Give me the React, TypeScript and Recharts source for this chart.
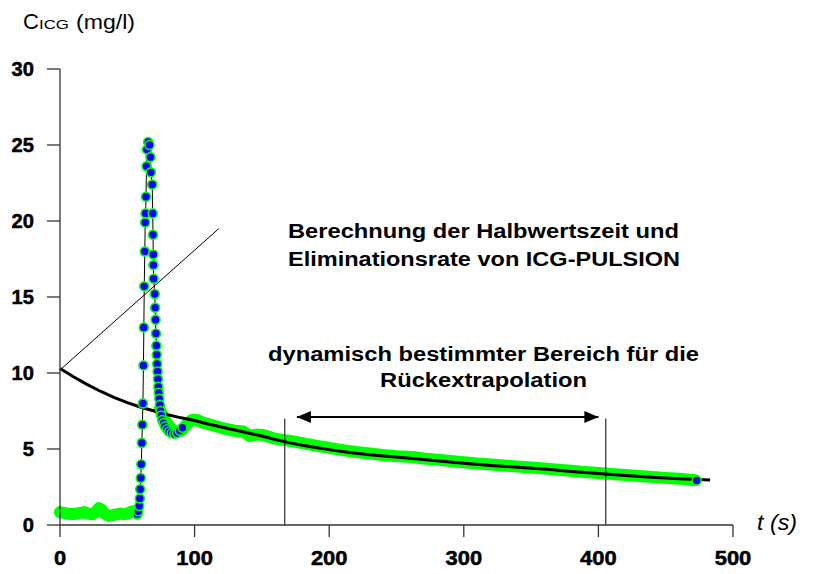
import React from "react";
import { ComposedChart, Line, XAxis, YAxis } from "recharts";

// ---- data ----
const xTicks = [0, 100, 200, 300, 400, 500];
const yTicks = [0, 5, 10, 15, 20, 25, 30];

// baseline of the measured concentration (before the bolus)
const baseT = [0, 3, 6, 9, 12, 15, 18, 21, 24, 27, 29, 31, 33, 36, 39, 42, 45, 48, 51, 54, 57];
const baseV = [0.85, 0.8, 0.75, 0.7, 0.75, 0.8, 0.85, 0.75, 0.7, 0.9, 1.1, 1.0, 0.75, 0.6, 0.65, 0.7, 0.75, 0.7, 0.8, 0.9, 0.75];

// bolus peak (individual markers)
const spikeT = [57.5, 58.2, 58.9, 59.3, 59.6, 60.0, 60.4, 60.8, 61.2, 61.6, 62.0, 62.3, 62.6, 63.0, 63.3, 63.6, 63.9, 64.3, 64.6, 65.5, 66.5, 67.2, 67.5, 68.5, 68.9, 69.1, 69.3, 69.4, 69.6, 70.4, 70.7, 71.0, 71.3, 71.6, 71.9, 72.2, 72.5, 72.8, 73.1, 73.4, 73.8, 74.2, 74.7, 75.3, 76.0, 77.0, 78.0, 79.5, 81, 83, 85, 87, 89, 91];
const spikeV = [0.7, 0.9, 1.25, 1.75, 2.35, 3.1, 4.0, 5.4, 6.6, 8.0, 10.5, 13.0, 15.7, 18.0, 19.9, 20.5, 21.6, 23.6, 24.7, 25.2, 25.0, 24.2, 23.2, 22.4, 20.5, 19.1, 17.8, 17.1, 16.2, 15.2, 14.3, 13.5, 12.6, 11.8, 11.2, 10.6, 10.1, 9.6, 9.1, 8.7, 8.3, 7.9, 7.5, 7.2, 6.9, 6.7, 6.5, 6.3, 6.15, 6.05, 6.0, 6.05, 6.2, 6.4];

// elimination phase (dense markers form a band)
const tailT = [74, 78, 82, 86, 90, 94, 98, 102, 106, 112, 118, 124, 130, 136, 141, 146, 152, 158, 164, 170, 180, 190, 200, 210, 220, 230, 240, 250, 262, 270, 280, 290, 300, 310, 320, 330, 340, 350, 360, 370, 380, 390, 400, 410, 420, 430, 440, 450, 460, 472];
const tailV = [7.6, 6.9, 6.4, 6.1, 6.2, 6.6, 6.9, 6.9, 6.75, 6.6, 6.45, 6.3, 6.2, 6.15, 5.85, 5.95, 5.9, 5.72, 5.62, 5.55, 5.38, 5.22, 5.07, 4.93, 4.8, 4.7, 4.6, 4.53, 4.47, 4.38, 4.3, 4.21, 4.13, 4.05, 3.98, 3.91, 3.85, 3.78, 3.72, 3.64, 3.57, 3.49, 3.42, 3.35, 3.29, 3.22, 3.16, 3.1, 3.05, 2.95];

const lastT = [473];
const lastV = [2.93];

// fitted (back-extrapolated) elimination curve
const fitT = [0, 10, 20, 30, 40, 50, 60, 70, 80, 90, 100, 110, 120, 130, 140, 150, 160, 170, 180, 190, 200, 215, 230, 245, 262, 280, 300, 320, 340, 362, 380, 405, 420, 440, 460, 483];
const fitV = [10.3, 9.75, 9.25, 8.8, 8.4, 8.05, 7.75, 7.5, 7.25, 7.05, 6.88, 6.65, 6.45, 6.25, 6.05, 5.85, 5.62, 5.42, 5.25, 5.1, 4.96, 4.77, 4.62, 4.5, 4.38, 4.22, 4.06, 3.92, 3.8, 3.66, 3.52, 3.35, 3.25, 3.14, 3.05, 2.96];

// tangent at t = 0
const tangentT = [0, 118];
const tangentV = [10.2, 19.5];

// range used for the back-extrapolation
const rangeStartT = 167;
const rangeEndT = 405.5;
const rangeTopV = 7.0;
const arrowT = [176, 400];
const arrowV = [7.1, 7.1];

const zip = (ts: number[], vs: number[]) => ts.map((t, i) => ({ t, v: vs[i] }));

const baseData = zip(baseT, baseV);
const spikeData = zip(spikeT, spikeV);
const tailData = zip(tailT, tailV);
const lastData = zip(lastT, lastV);
const fitData = zip(fitT, fitV);
const tangentData = zip(tangentT, tangentV);
const vLine1 = zip([rangeStartT, rangeStartT], [0, rangeTopV]);
const vLine2 = zip([rangeEndT, rangeEndT], [0, rangeTopV]);
const arrowData = zip(arrowT, arrowV);

const GREEN = "#00ff00";
const BLUE = "#0000ff";
const AXIS = "#333333";

const markerDot = (props: any) => {
  const { cx, cy, index } = props;
  if (cx == null || cy == null) return <g key={"m" + index} />;
  return <circle key={"m" + index} cx={cx} cy={cy} r={4.5} fill={BLUE} stroke={GREEN} strokeWidth={1.6} />;
};

const arrowDot = (props: any) => {
  const { cx, cy, index } = props;
  if (cx == null || cy == null) return <g key={"a" + index} />;
  const dir = index === 0 ? 1 : -1;
  const pts = `${cx},${cy} ${cx + dir * 14},${cy - 6} ${cx + dir * 14},${cy + 6}`;
  return <polygon key={"a" + index} points={pts} fill="#000" />;
};

const tickFont = {
  fontFamily: "Liberation Sans, Arial, sans-serif",
  fontWeight: "bold" as const,
  fontSize: 20,
  fill: "#000",
  stroke: "#000",
  strokeWidth: 0.5,
};

const XTick = (props: any) => {
  const { x, y, payload } = props;
  const label = String(payload.value);
  return (
    <text x={x} y={y + 26} textAnchor="middle" textLength={label.length * 12.2} lengthAdjust="spacingAndGlyphs" {...tickFont}>
      {label}
    </text>
  );
};

const YTick = (props: any) => {
  const { x, y, payload } = props;
  const label = String(payload.value);
  return (
    <text x={x} y={y + 7} textAnchor="end" textLength={label.length * 11.2} lengthAdjust="spacingAndGlyphs" {...tickFont}>
      {label}
    </text>
  );
};

const W = 813;
const H = 574;

export default function App() {
  return (
    <div style={{ position: "fixed", left: 0, top: 0, width: W, height: H, overflow: "hidden", background: "#fff" }}>
      <ComposedChart width={W} height={H} margin={{ top: 69, right: 80, bottom: 19, left: 8 }}>
        <XAxis
          dataKey="t"
          type="number"
          domain={[0, 500]}
          ticks={xTicks}
          tickSize={12}
          tickMargin={2}
          height={30}
          stroke={AXIS}
          tick={<XTick />}
          axisLine={{ stroke: AXIS, strokeWidth: 1.3 }}
          tickLine={{ stroke: AXIS, strokeWidth: 1.3 }}
        />
        <YAxis
          dataKey="v"
          type="number"
          domain={[0, 30]}
          ticks={yTicks}
          tickSize={13}
          tickMargin={13}
          width={52}
          stroke={AXIS}
          tick={<YTick />}
          axisLine={{ stroke: AXIS, strokeWidth: 1.3 }}
          tickLine={{ stroke: AXIS, strokeWidth: 1.3 }}
        />
        <Line data={baseData} dataKey="v" stroke={GREEN} strokeWidth={12} strokeLinecap="round" strokeLinejoin="round" dot={false} isAnimationActive={false} />
        <Line data={tailData} dataKey="v" stroke={GREEN} strokeWidth={12} strokeLinecap="round" strokeLinejoin="round" dot={false} isAnimationActive={false} />
        <Line data={fitData} dataKey="v" stroke="#000" strokeWidth={3} dot={false} isAnimationActive={false} />
        <Line data={spikeData} dataKey="v" stroke="#000" strokeWidth={1} dot={markerDot} isAnimationActive={false} />
        <Line data={lastData} dataKey="v" stroke="none" dot={markerDot} isAnimationActive={false} />
        <Line data={tangentData} dataKey="v" stroke="#000" strokeWidth={1} dot={false} isAnimationActive={false} />
        <Line data={vLine1} dataKey="v" stroke="#000" strokeWidth={1} dot={false} isAnimationActive={false} />
        <Line data={vLine2} dataKey="v" stroke="#000" strokeWidth={1} dot={false} isAnimationActive={false} />
        <Line data={arrowData} dataKey="v" stroke="#000" strokeWidth={2} dot={arrowDot} isAnimationActive={false} />
      </ComposedChart>
      <svg width={W} height={H} style={{ position: "absolute", left: 0, top: 0, pointerEvents: "none" }}>
        <g fontFamily="Liberation Sans, Arial, sans-serif" fill="#000">
          <text x={23} y={29} fontSize={22}>C</text>
          <text x={39} y={29} fontSize={13} textLength={30} lengthAdjust="spacingAndGlyphs">ICG</text>
          <text x={76} y={29} fontSize={21} textLength={59} lengthAdjust="spacingAndGlyphs">(mg/l)</text>
          <g fontWeight="bold" fontSize={20}>
            <text x={288} y={238} textLength={391} lengthAdjust="spacingAndGlyphs">Berechnung der Halbwertszeit und</text>
            <text x={288} y={266} textLength={392} lengthAdjust="spacingAndGlyphs">Eliminationsrate von ICG-PULSION</text>
            <text x={268} y={361} textLength={431} lengthAdjust="spacingAndGlyphs">dynamisch bestimmter Bereich für die</text>
            <text x={380} y={387} textLength={207} lengthAdjust="spacingAndGlyphs">Rückextrapolation</text>
          </g>
          <text x={757} y={530} fontSize={22} fontStyle="italic" textLength={40} lengthAdjust="spacingAndGlyphs">t (s)</text>
        </g>
      </svg>
    </div>
  );
}
